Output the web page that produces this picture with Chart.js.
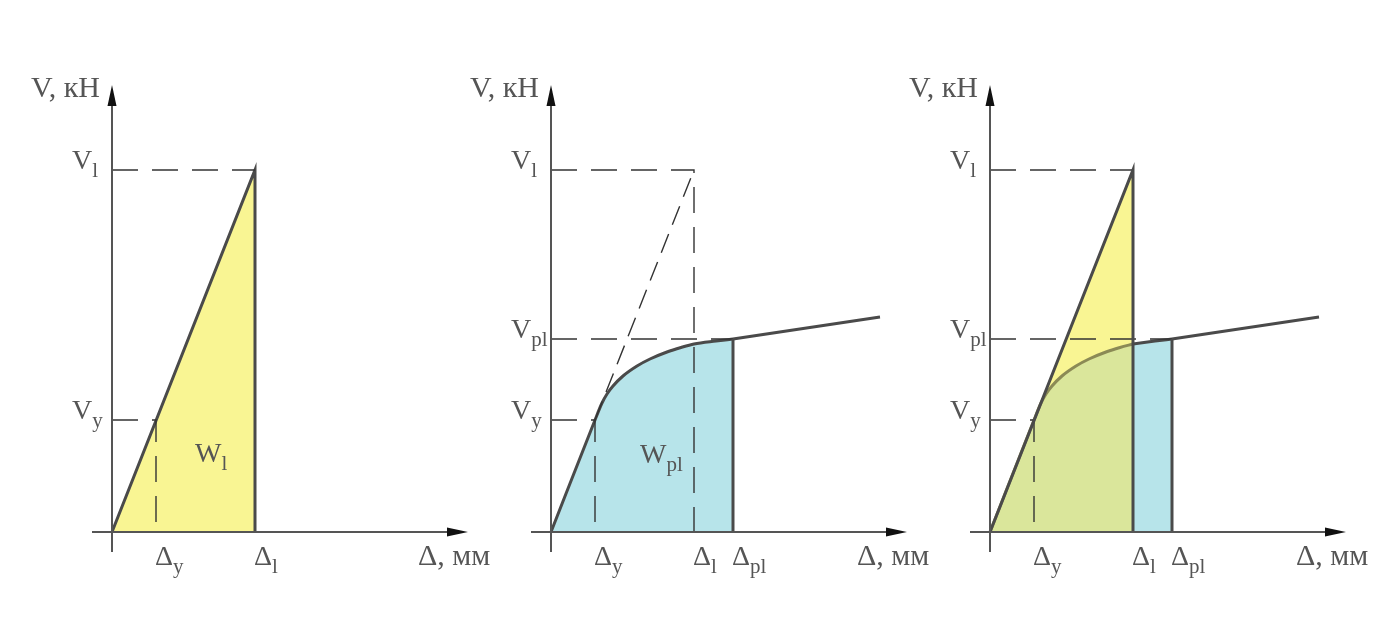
<!DOCTYPE html>
<html>
<head>
<meta charset="utf-8">
<script src="https://cdn.jsdelivr.net/npm/chart.js@4/dist/chart.umd.min.js"></script>
<style>
body{margin:0;background:#fff;overflow:hidden;width:1386px;height:621px;position:relative}
canvas{position:absolute;top:0}
</style>
</head>
<body>
<canvas id="c1" width="500" height="621" style="left:0px"></canvas>
<canvas id="c2" width="500" height="621" style="left:439px"></canvas>
<canvas id="c3" width="500" height="621" style="left:878px"></canvas>
<script>
// values (arbitrary units, mm / kN)
var deltaTicks = [4.4, 14.3, 18.2];      // Δy, Δl, Δpl
var forceTicks = [11.2, 36.2, 19.3];     // Vy, Vl, Vpl
var tickNames = ["y", "l", "pl"];
var curveDelta = [0, 4.4, 5.1, 5.6, 6.2, 7.2, 8.6, 9.9, 11.6, 13.0, 14.3, 16.5, 18.2];
var curveForce = [0, 11.2, 12.9, 13.8, 14.6, 15.6, 16.6, 17.3, 18.0, 18.45, 18.8, 19.1, 19.3];
var hardDelta = [18.2, 32.9];
var hardForce = [19.3, 21.5];
var axisLabels = ["V, кН", "Δ, мм"];
var areaLabels = [["W", "l"], ["W", "pl"]];

var dy = deltaTicks[0], dl = deltaTicks[1], dpl = deltaTicks[2];
var vy = forceTicks[0], vl = forceTicks[1], vpl = forceTicks[2];

var DARK = "#4a4a4a", DASH = "#333333", AXIS = "#555555", TEXT = "#555555";
var YELLOW = "#f9f593", BLUE = "#b7e4ea", OLIVE = "#dae69b", BROWN = "#8b8a55";
var SERIF = "'Liberation Serif', 'DejaVu Serif', serif";

function pts(xs, ys){
  var out = [];
  for (var i = 0; i < xs.length; i++) out.push({x: xs[i], y: ys[i]});
  return out;
}
function thick(data, order){
  return {data: data, borderColor: DARK, borderWidth: 3, pointRadius: 0, fill: false, order: order || 1};
}
function dashed(data, dash){
  return {data: data, borderColor: DASH, borderWidth: 1.4, borderDash: dash || [26, 14], pointRadius: 0, fill: false, order: 2};
}

function drawSub(ctx, x, y, main, sub){
  ctx.textAlign = "left";
  ctx.textBaseline = "alphabetic";
  ctx.font = "28px " + SERIF;
  var w1 = ctx.measureText(main).width;
  ctx.fillText(main, x, y);
  ctx.font = "21px " + SERIF;
  ctx.fillText(sub, x + w1, y + 8);
}

var axesPlugin = {
  id: "axesPlugin",
  afterDatasetsDraw: function(chart){
    var ctx = chart.ctx, xs = chart.scales.x, ys = chart.scales.y;
    var cfg = chart.options.plugins.axesPlugin;
    var x0 = xs.getPixelForValue(0), y0 = ys.getPixelForValue(0);
    var xTip = xs.getPixelForValue(35.6), yTip = ys.getPixelForValue(44.7);
    ctx.save();
    ctx.strokeStyle = AXIS;
    ctx.lineWidth = 2;
    ctx.beginPath();
    ctx.moveTo(x0, ys.getPixelForValue(-2));
    ctx.lineTo(x0, yTip + 18);
    ctx.moveTo(xs.getPixelForValue(-2), y0);
    ctx.lineTo(xTip - 18, y0);
    ctx.stroke();
    ctx.fillStyle = "#111";
    ctx.beginPath();
    ctx.moveTo(x0, yTip);
    ctx.lineTo(x0 - 4.5, yTip + 21);
    ctx.lineTo(x0 + 4.5, yTip + 21);
    ctx.closePath();
    ctx.fill();
    ctx.beginPath();
    ctx.moveTo(xTip, y0);
    ctx.lineTo(xTip - 21, y0 - 4.5);
    ctx.lineTo(xTip - 21, y0 + 4.5);
    ctx.closePath();
    ctx.fill();

    ctx.fillStyle = TEXT;
    ctx.font = "30px " + SERIF;
    ctx.textAlign = "right";
    ctx.textBaseline = "alphabetic";
    ctx.fillText(axisLabels[0], x0 - 12, ys.getPixelForValue(43.5));
    ctx.textAlign = "left";
    ctx.fillText(axisLabels[1], xs.getPixelForValue(30.6), y0 + 33);

    cfg.ticks.forEach(function(i){
      drawSub(ctx, x0 - 40, ys.getPixelForValue(forceTicks[i]) - 1, "V", tickNames[i]);
      drawSub(ctx, xs.getPixelForValue(deltaTicks[i]) - 1, y0 + 33, "Δ", tickNames[i]);
    });
    if (cfg.area){
      drawSub(ctx, xs.getPixelForValue(cfg.area.x), ys.getPixelForValue(cfg.area.y), cfg.area.text[0], cfg.area.text[1]);
    }
    ctx.restore();
  }
};

function makeChart(id, datasets, extra){
  return new Chart(document.getElementById(id), {
    type: "line",
    data: {datasets: datasets},
    options: {
      responsive: false,
      animation: false,
      devicePixelRatio: 1,
      layout: {padding: {left: 92, right: 8, top: 62, bottom: 59}},
      scales: {
        x: {type: "linear", min: -2, max: 38, display: false},
        y: {type: "linear", min: -3, max: 47, display: false}
      },
      plugins: {legend: {display: false}, tooltip: {enabled: false}, axesPlugin: extra}
    },
    plugins: [axesPlugin]
  });
}

var curve = pts(curveDelta, curveForce);
var upToL = curveDelta.indexOf(dl) + 1; // curve points up to Δl

// panel 1: elastic
makeChart("c1", [
  {data: pts([0, dl, dl], [0, vl, 0]), borderColor: DARK, borderWidth: 3, backgroundColor: YELLOW, fill: "origin", pointRadius: 0, order: 5},
  dashed(pts([0, dl], [vl, vl])),
  dashed(pts([0, dy, dy], [vy, vy, 0]))
], {ticks: [0, 1], area: {x: 8.3, y: 7.0, text: areaLabels[0]}});

// panel 2: elasto-plastic
makeChart("c2", [
  {data: curve, borderColor: DARK, borderWidth: 3, backgroundColor: BLUE, fill: "origin", pointRadius: 0, cubicInterpolationMode: "monotone", order: 5},
  thick(pts(hardDelta, hardForce)),
  thick(pts([dpl, dpl], [0, vpl])),
  dashed(pts([0, dl, dl], [vl, vl, 0])),
  dashed(pts([dy, dl], [vy, vl]), [20, 10]),
  dashed(pts([0, dpl], [vpl, vpl])),
  dashed(pts([0, dy, dy], [vy, vy, 0]))
], {ticks: [0, 1, 2], area: {x: 8.9, y: 6.9, text: areaLabels[1]}});

// panel 3: both together
makeChart("c3", [
  {data: pts([0, dl], [0, vl]), borderWidth: 0, backgroundColor: YELLOW, fill: "origin", pointRadius: 0, order: 9},
  {data: curve, borderWidth: 0, backgroundColor: BLUE, fill: "origin", pointRadius: 0, cubicInterpolationMode: "monotone", order: 8},
  {data: curve.slice(0, upToL), borderColor: BROWN, borderWidth: 3, backgroundColor: OLIVE, fill: "origin", pointRadius: 0, cubicInterpolationMode: "monotone", order: 7},
  {data: curve.slice(upToL - 1), borderColor: DARK, borderWidth: 3, pointRadius: 0, fill: false, cubicInterpolationMode: "monotone", order: 6},
  thick(pts([0, dl, dl], [0, vl, 0])),
  thick(pts([dpl, dpl], [0, vpl])),
  thick(pts(hardDelta, hardForce)),
  dashed(pts([0, dl], [vl, vl])),
  dashed(pts([0, dpl], [vpl, vpl])),
  dashed(pts([0, dy, dy], [vy, vy, 0]))
], {ticks: [0, 1, 2]});
</script>
</body>
</html>
